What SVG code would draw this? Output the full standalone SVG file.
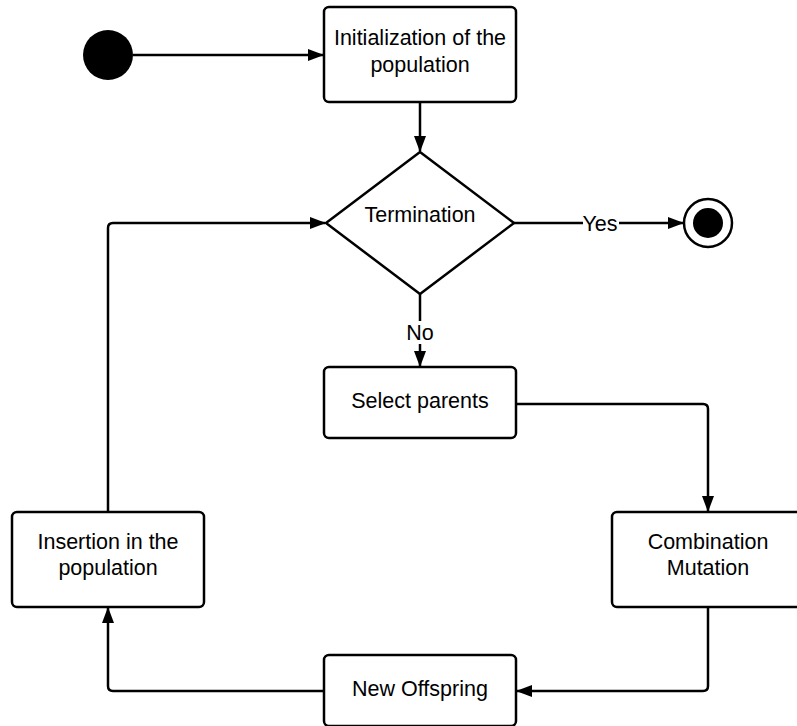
<svg xmlns="http://www.w3.org/2000/svg" width="797" height="726" viewBox="0 0 797 726">
<style>
.box{fill:#fff;stroke:#000;stroke-width:2.5}
.t{font-family:"Liberation Sans",Arial,sans-serif;font-size:21.5px;fill:#000;text-anchor:middle}
.c{fill:none;stroke:#000;stroke-width:2.5;stroke-linejoin:round}
</style>
<defs>
<marker id="ah" markerWidth="16" markerHeight="12" refX="15" refY="6" orient="auto" markerUnits="userSpaceOnUse">
<path d="M0,0 L16,6 L0,12 Z" fill="#000"/>
</marker>
</defs>
<rect width="797" height="726" fill="#fff"/>
<g id="connectors">
<path class="c" d="M133,55 L323,55" marker-end="url(#ah)"/>
<path class="c" d="M420,102 L420,151" marker-end="url(#ah)"/>
<path class="c" d="M514,223 L583,223 M619,223 L683,223" marker-end="url(#ah)"/>
<path class="c" d="M420,294 L420,321 M420,344 L420,366" marker-end="url(#ah)"/>
<path class="c" d="M516,404 L703,404 Q708,404 708,409 L708,511" marker-end="url(#ah)"/>
<path class="c" d="M708,607 L708,686 Q708,691 703,691 L517,691" marker-end="url(#ah)"/>
<path class="c" d="M324,691 L113,691 Q108,691 108,686 L108,608" marker-end="url(#ah)"/>
<path class="c" d="M108,512 L108,228 Q108,223 113,223 L325,223" marker-end="url(#ah)"/>
<text class="t" x="600" y="231">Yes</text>
<text class="t" x="420" y="340">No</text>
</g>
<g id="start"><circle cx="108" cy="55" r="25" fill="#000"/></g>
<g id="init">
<rect class="box" x="324" y="7" width="192" height="95" rx="5"/>
<text class="t" x="420" y="45">Initialization of the</text>
<text class="t" x="420" y="72">population</text>
</g>
<g id="termination">
<path class="box" d="M420,152 L514,223 L420,294 L326,223 Z" stroke-linejoin="round"/>
<text class="t" x="420" y="222">Termination</text>
</g>
<g id="end">
<circle cx="708" cy="223" r="24" fill="#fff" stroke="#000" stroke-width="2.5"/>
<circle cx="708" cy="223" r="15" fill="#000"/>
</g>
<g id="select">
<rect class="box" x="324" y="367" width="192" height="71" rx="5"/>
<text class="t" x="420" y="408">Select parents</text>
</g>
<g id="combination">
<rect class="box" x="612" y="512" width="192" height="95" rx="5"/>
<text class="t" x="708" y="549">Combination</text>
<text class="t" x="708" y="575">Mutation</text>
</g>
<g id="offspring">
<rect class="box" x="324" y="655" width="192" height="71" rx="5"/>
<text class="t" x="420" y="696">New Offspring</text>
</g>
<g id="insertion">
<rect class="box" x="12" y="512" width="192" height="95" rx="5"/>
<text class="t" x="108" y="549">Insertion in the</text>
<text class="t" x="108" y="575">population</text>
</g>
</svg>
